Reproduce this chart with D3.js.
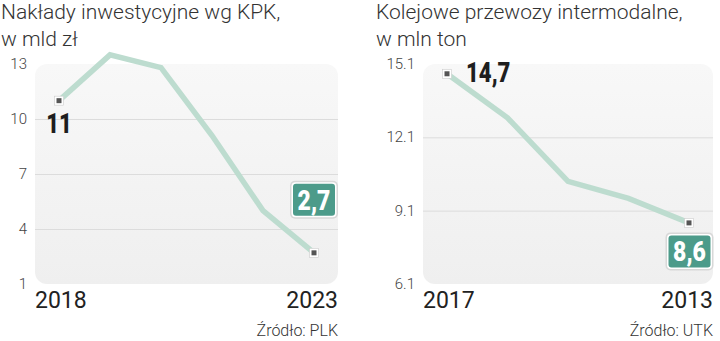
<!DOCTYPE html>
<html><head><meta charset="utf-8">
<script src="https://cdn.jsdelivr.net/npm/d3@7"></script>
<style>
html,body{margin:0;padding:0;background:#fff;}
svg{display:block;}
</style></head>
<body>
<svg id="chart" width="720" height="341"></svg>
<script>
// ---- data ----
const leftTitle = ["Nakłady inwestycyjne wg KPK,", "w mld zł"];
const leftYears = ["2018","2019","2020","2021","2022","2023"];
const leftValues = [11, 13.5, 12.8, 9.1, 5.0, 2.7];
const leftTicks = [1, 4, 7, 10, 13];
const leftSource = "Źródło: PLK";

const rightTitle = ["Kolejowe przewozy intermodalne,", "w mln ton"];
const rightYears = ["2017","2016","2015","2014","2013"];
const rightValues = [14.7, 12.9, 10.3, 9.6, 8.6];
const rightTicks = [6.1, 9.1, 12.1, 15.1];
const rightSource = "Źródło: UTK";

const svg = d3.select("#chart");
const defs = svg.append("defs");
const grad = defs.append("linearGradient").attr("id","pg").attr("x1",0).attr("y1",0).attr("x2",0).attr("y2",1);
grad.append("stop").attr("offset","0%").attr("stop-color","#f8f8f8");
grad.append("stop").attr("offset","100%").attr("stop-color","#efefef");

const LIGHT = "Roboto, 'Liberation Sans', sans-serif";
const BOLD = "Roboto, 'Liberation Sans', sans-serif";
const SQUEEZE = 0.82;

function comma(v){ return String(v).replace(".", ","); }

function condensedText(g, x, y, anchor, size, fill, txt){
  return g.append("text")
    .attr("transform", `translate(${x},${y}) scale(${SQUEEZE},1)`)
    .attr("text-anchor", anchor).attr("font-family", BOLD).attr("font-weight", 900)
    .attr("font-size", size).attr("fill", fill).text(txt);
}

function drawChart(cfg){
  const g = svg.append("g");
  // title
  cfg.title.forEach((t,i)=>{
    g.append("text").attr("x", cfg.titleX).attr("y", 19 + i*27)
      .attr("font-family", LIGHT).attr("font-weight", 300).attr("font-size", 21)
      .attr("fill", "#333").text(t);
  });
  const x = d3.scalePoint().domain(cfg.years).range(cfg.xRange);
  const y = d3.scaleLinear().domain(cfg.yDomain).range([284, 64]);
  // panel
  g.append("rect").attr("x", cfg.panel[0]).attr("y", y(cfg.yDomain[1]))
    .attr("width", cfg.panel[1]-cfg.panel[0]).attr("height", y(cfg.yDomain[0]) - y(cfg.yDomain[1]))
    .attr("rx", 12).attr("fill", "url(#pg)");
  // grid
  const inner = cfg.ticks.filter(t => t !== cfg.yDomain[0] && t !== cfg.yDomain[1]);
  g.selectAll(".grid").data(inner).join("line")
    .attr("x1", cfg.panel[0]).attr("x2", cfg.panel[1])
    .attr("y1", d=>y(d)+0.5).attr("y2", d=>y(d)+0.5)
    .attr("stroke", "#dcdcdc").attr("stroke-width", 1);
  // y tick labels
  g.selectAll(".tl").data(cfg.ticks).join("text")
    .attr("x", cfg.panel[0]-8).attr("y", d=>y(d)+5)
    .attr("text-anchor","end").attr("font-family", LIGHT).attr("font-weight", 300)
    .attr("font-size", 15).attr("fill", "#444").text(cfg.tickFmt);
  // line
  const pts = cfg.years.map((yr,i)=>[x(yr), y(cfg.values[i])]);
  g.append("path").datum(pts).attr("d", d3.line())
    .attr("fill","none").attr("stroke","#bddccf").attr("stroke-width",5.5)
    .attr("stroke-linejoin","miter");
  // end markers
  const ends = [0, cfg.years.length-1];
  ends.forEach(i=>{
    const [px,py] = pts[i];
    g.append("rect").attr("x",px-4.5).attr("y",py-4.5).attr("width",9).attr("height",9)
      .attr("fill","#fff").attr("stroke","#ccc").attr("stroke-width",0.6);
    g.append("rect").attr("x",px-2.5).attr("y",py-2.5).attr("width",5).attr("height",5)
      .attr("fill","#555");
  });
  // year labels
  g.append("text").attr("x", cfg.panel[0]).attr("y", 308).attr("text-anchor","start")
    .attr("font-family", LIGHT).attr("font-weight", 400).attr("font-size", 23).attr("fill","#222")
    .text(cfg.years[0]);
  g.append("text").attr("x", cfg.panel[1]).attr("y", 308).attr("text-anchor","end")
    .attr("font-family", LIGHT).attr("font-weight", 400).attr("font-size", 23).attr("fill","#222")
    .text(cfg.years[cfg.years.length-1]);
  // source
  g.append("text").attr("x", cfg.panel[1]).attr("y", 336).attr("text-anchor","end")
    .attr("font-family", LIGHT).attr("font-weight", 300).attr("font-size", 16).attr("fill","#333")
    .text(cfg.source);
  // first value label
  const fl = cfg.firstLabel;
  condensedText(g, pts[0][0] + fl.dx, pts[0][1] + fl.dy, fl.anchor, 27, "#1e1e1e", comma(cfg.values[0]));
  // last value box
  const lb = cfg.lastBox;
  const [lx,ly] = pts[pts.length-1];
  const bw = 47, bh = 37;
  const bx = lx + lb.dx - bw/2, by = ly + lb.dy - bh/2;
  g.append("rect").attr("x",bx-0.5).attr("y",by-0.5).attr("width",bw+1).attr("height",bh+1)
    .attr("rx",5).attr("fill","#d8d8d8");
  g.append("rect").attr("x",bx+1).attr("y",by+1).attr("width",bw-2).attr("height",bh-2)
    .attr("rx",4).attr("fill","#fff");
  g.append("rect").attr("x",bx+2.5).attr("y",by+2.5).attr("width",bw-5).attr("height",bh-5)
    .attr("rx",3).attr("fill","#4c9b8a");
  condensedText(g, bx+bw/2, by+bh/2+10, "middle", 28, "#fff", comma(cfg.values[cfg.values.length-1]));
}

drawChart({
  title: leftTitle, titleX: 1, years: leftYears, values: leftValues, ticks: leftTicks,
  yDomain: [1, 13], xRange: [59, 314], panel: [35, 338],
  tickFmt: d => d3.format("d")(d), source: leftSource,
  firstLabel: {dx: 0, dy: 32, anchor: "middle"},
  lastBox: {dx: 0, dy: -53}
});
drawChart({
  title: rightTitle, titleX: 376, years: rightYears, values: rightValues, ticks: rightTicks,
  yDomain: [6.1, 15.1], xRange: [447, 689], panel: [423, 713],
  tickFmt: d => d3.format(".1f")(d), source: rightSource,
  firstLabel: {dx: 19, dy: 8, anchor: "start"},
  lastBox: {dx: 0.5, dy: 28.5}
});
</script>
</body></html>
